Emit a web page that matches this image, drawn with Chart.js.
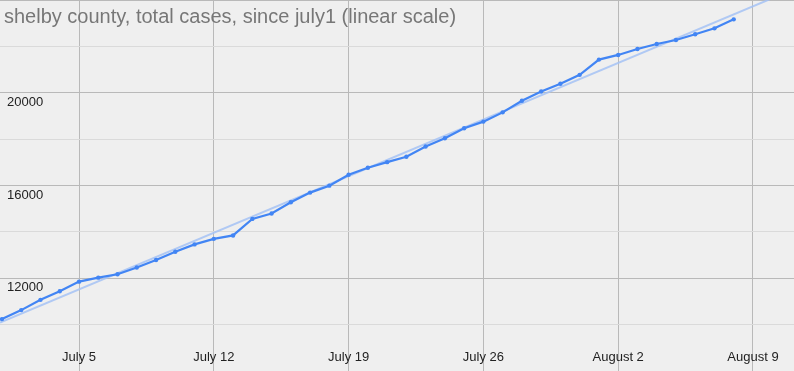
<!DOCTYPE html>
<html>
<head>
<meta charset="utf-8">
<script src="https://cdn.jsdelivr.net/npm/chart.js@4"></script>
<style>
  html, body { margin: 0; padding: 0; background: #efefef; }
  #wrap { width: 794px; height: 371px; position: relative; }
</style>
</head>
<body>
<div id="wrap"><canvas id="c" width="794" height="371"></canvas></div>
<script>
// Days since July 1 (0 = July 1)
const days = [0,1,2,3,4,5,6,7,8,9,10,11,12,13,14,15,16,17,18,19,20,21,22,23,24,25,26,27,28,29,30,31,32,33,34,35,36,37,38];
// Shelby County total cases
const totalCases = [10239,10626,11068,11442,11854,12026,12172,12464,12786,13142,
  13460,13700,13846,14559,14791,15276,15693,15993,16466,16766,
  17007,17239,17681,18037,18467,18755,19154,19656,20056,20386,
  20773,21430,21631,21889,22104,22276,22520,22778,23165];
// X tick positions (days since July 1) and labels
const xTickDays = [4, 11, 18, 25, 32, 39];
const xTickLabels = ["July 5", "July 12", "July 19", "July 26", "August 2", "August 9"];
// Y labelled ticks
const yTickValues = [12000, 16000, 20000];
const yTickLabels = ["12000", "16000", "20000"];
const titleText = "shelby county, total cases, since july1 (linear scale)";

// least-squares trendline from the data
function trend(xs, ys) {
  const n = xs.length;
  let sx = 0, sy = 0, sxx = 0, sxy = 0;
  for (let i = 0; i < n; i++) { sx += xs[i]; sy += ys[i]; sxx += xs[i]*xs[i]; sxy += xs[i]*ys[i]; }
  const m = (n*sxy - sx*sy) / (n*sxx - sx*sx);
  const b = (sy - m*sx) / n;
  return {m, b};
}
const X_MIN = -0.104, X_MAX = 41.13;
const tr = trend(days, totalCases);
const trendPts = [X_MIN, X_MAX].map(d => ({x: d, y: tr.m*d + tr.b}));

const labelPlugin = {
  id: 'labels',
  afterDatasetsDraw(chart) {
    const ctx = chart.ctx;
    const xs = chart.scales.x, ys = chart.scales.y;
    ctx.save();
    ctx.fillStyle = '#222222';
    ctx.font = '13px "Liberation Sans", Arial, sans-serif';
    ctx.textBaseline = 'top';
    ctx.textAlign = 'left';
    yTickValues.forEach((v, i) => {
      ctx.fillText(yTickLabels[i], 7, ys.getPixelForValue(v) + 3);
    });
    ctx.textAlign = 'center';
    ctx.textBaseline = 'middle';
    xTickDays.forEach((d, i) => {
      ctx.fillText(xTickLabels[i], xs.getPixelForValue(d), 357);
    });
    ctx.fillStyle = '#777777';
    ctx.font = '20px "Liberation Sans", Arial, sans-serif';
    ctx.textAlign = 'left';
    ctx.fillText(titleText, 4, 17);
    ctx.restore();
  }
};

new Chart(document.getElementById('c'), {
  type: 'line',
  data: {
    datasets: [
      {
        data: trendPts,
        borderColor: 'rgba(164,194,244,0.85)',
        borderWidth: 2,
        pointRadius: 0,
        fill: false,
        order: 2
      },
      {
        data: days.map((d, i) => ({x: d, y: totalCases[i]})),
        borderColor: '#4285f4',
        backgroundColor: '#4285f4',
        borderWidth: 2.2,
        pointRadius: 2.2,
        pointBorderWidth: 0,
        tension: 0,
        fill: false,
        order: 1
      }
    ]
  },
  options: {
    responsive: false,
    animation: false,
    layout: { padding: 0, autoPadding: false },
    plugins: { legend: { display: false }, tooltip: { enabled: false }, title: { display: false } },
    scales: {
      x: {
        type: 'linear',
        min: X_MIN, max: X_MAX,
        afterBuildTicks(scale) { scale.ticks = xTickDays.map(v => ({value: v})); },
        ticks: { display: false },
        border: { display: false },
        grid: { color: '#b9b9b9', lineWidth: 1, drawTicks: false }
      },
      y: {
        min: 8000, max: 24000,
        ticks: { display: false, stepSize: 2000 },
        border: { display: false },
        grid: {
          drawTicks: false,
          lineWidth: 1,
          color: (c) => (c.tick && c.tick.value % 4000 === 0) ? '#b9b9b9' : '#dadada'
        }
      }
    }
  },
  plugins: [labelPlugin]
});
</script>
</body>
</html>
